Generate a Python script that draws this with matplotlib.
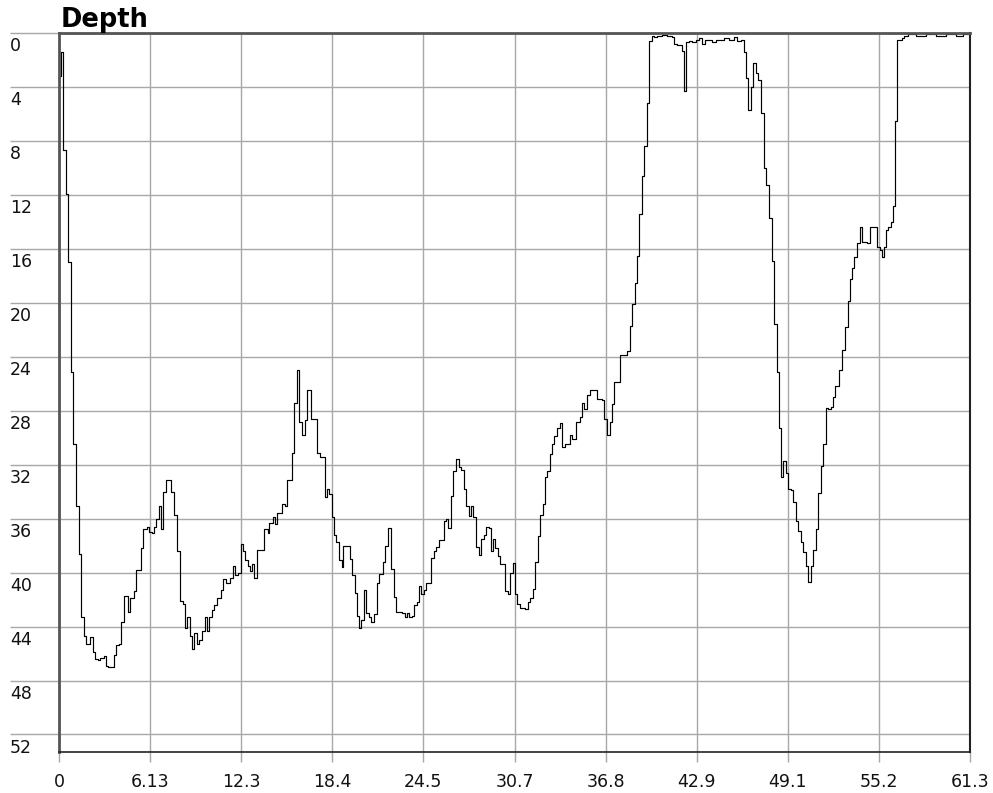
import numpy as np
import matplotlib
matplotlib.use("Agg")
import matplotlib.pyplot as plt

# depth profile (step-wise samples)
time = [0, 0.13, 0.29, 0.47, 0.63, 0.81, 0.96, 1.14, 1.33, 1.50, 1.66, 1.84, 2.11, 2.27, 2.42, 2.61, 2.79, 3.01, 3.14, 3.32,
        3.68, 3.84, 4.04, 4.18, 4.36, 4.63, 4.76, 5.03, 5.16, 5.52, 5.68, 5.91, 6.06, 6.24, 6.40, 6.53, 6.73, 6.87, 7.02, 7.21,
        7.52, 7.76, 7.97, 8.15, 8.33, 8.48, 8.64, 8.82, 8.94, 9.11, 9.29, 9.43, 9.61, 9.83, 9.97, 10.12, 10.28, 10.44, 10.66, 10.89,
        11.06, 11.25, 11.52, 11.70, 11.83, 12.05, 12.24, 12.37, 12.51, 12.71, 12.86, 13.02, 13.15, 13.35, 13.82, 14.03, 14.16, 14.39, 14.53, 14.70,
        15.00, 15.20, 15.35, 15.69, 15.82, 16.01, 16.18, 16.34, 16.52, 16.68, 16.99, 17.35, 17.58, 17.87, 18.03, 18.20, 18.36, 18.50, 18.65, 18.84,
        19.01, 19.14, 19.55, 19.73, 19.89, 20.05, 20.18, 20.34, 20.49, 20.67, 20.88, 21.01, 21.17, 21.37, 21.50, 21.80, 21.95, 22.11, 22.31, 22.51,
        22.69, 23.08, 23.25, 23.41, 23.57, 23.77, 23.91, 24.09, 24.24, 24.38, 24.53, 24.69, 25.03, 25.21, 25.37, 25.54, 25.88, 26.04, 26.17, 26.35,
        26.51, 26.71, 26.89, 27.05, 27.23, 27.41, 27.56, 27.72, 27.88, 28.06, 28.24, 28.42, 28.60, 28.75, 28.96, 29.07, 29.23, 29.36, 29.52, 29.68,
        30.03, 30.19, 30.35, 30.53, 30.66, 30.82, 31.00, 31.22, 31.38, 31.54, 31.72, 31.87, 32.01, 32.21, 32.37, 32.55, 32.68, 32.84, 33.02, 33.18,
        33.33, 33.51, 33.69, 33.87, 34.03, 34.36, 34.53, 34.81, 35.04, 35.20, 35.35, 35.54, 35.71, 36.21, 36.55, 36.70, 36.88, 37.06, 37.22, 37.37,
        37.73, 38.23, 38.40, 38.57, 38.74, 38.90, 39.06, 39.21, 39.39, 39.58, 39.71, 39.87, 40.02, 40.25, 40.59, 40.92, 41.26, 41.37, 41.60, 41.89,
        42.04, 42.22, 42.38, 42.61, 42.83, 43.05, 43.28, 43.50, 43.95, 44.18, 44.73, 45.07, 45.41, 45.64, 45.86, 46.08, 46.24, 46.38, 46.55, 46.73,
        46.87, 47.02, 47.27, 47.43, 47.59, 47.77, 47.95, 48.13, 48.28, 48.44, 48.57, 48.73, 48.89, 49.07, 49.23, 49.38, 49.56, 49.72, 49.90, 50.05,
        50.24, 50.39, 50.57, 50.75, 50.91, 51.09, 51.25, 51.40, 51.58, 51.76, 51.92, 52.08, 52.21, 52.46, 52.66, 52.86, 53.06, 53.23, 53.38, 53.49,
        53.67, 53.89, 54.05, 54.39, 54.57, 55.02, 55.24, 55.35, 55.51, 55.64, 55.78, 55.96, 56.11, 56.23, 56.41, 56.75, 56.86, 57.12, 57.64, 58.32,
        58.99, 59.66, 60.34, 60.81, 61.3]

depth = [3.2, 1.4, 8.7, 11.9, 17.0, 25.1, 30.5, 35.1, 38.6, 43.3, 44.7, 45.3, 44.8, 45.9, 46.4, 46.5, 46.3, 46.2, 46.9, 47.0,
         46.1, 45.4, 45.3, 43.7, 41.7, 42.9, 41.9, 41.4, 39.8, 38.2, 36.8, 36.6, 37.0, 37.1, 36.6, 36.0, 35.1, 36.8, 34.0, 33.1,
         34.0, 35.7, 38.4, 42.1, 42.3, 44.1, 43.3, 44.7, 45.7, 44.5, 45.3, 45.0, 44.3, 43.3, 44.3, 43.3, 42.8, 42.4, 41.9, 41.3,
         40.5, 40.8, 40.4, 39.5, 40.2, 40.0, 37.9, 38.4, 39.1, 39.5, 39.9, 39.4, 40.4, 38.3, 36.8, 37.1, 36.3, 35.9, 36.4, 35.6,
         34.9, 35.1, 33.1, 31.1, 27.4, 25.0, 28.8, 29.8, 28.7, 26.5, 28.6, 31.1, 31.4, 34.4, 33.8, 34.2, 35.9, 37.2, 37.7, 39.1,
         39.6, 38.0, 39.0, 40.2, 41.5, 43.2, 44.1, 43.5, 41.3, 43.0, 43.3, 43.7, 43.1, 40.8, 40.1, 39.2, 38.0, 36.7, 39.7, 41.8,
         42.9, 43.0, 43.3, 43.0, 43.3, 43.2, 42.4, 42.2, 41.0, 41.6, 41.3, 40.8, 38.9, 38.4, 38.1, 37.6, 36.2, 36.0, 36.7, 34.3,
         32.5, 31.6, 32.2, 32.4, 33.8, 35.1, 35.8, 35.1, 35.9, 38.1, 38.7, 37.5, 37.2, 36.6, 36.7, 38.4, 37.5, 38.2, 38.8, 39.4,
         41.4, 41.6, 40.0, 39.3, 41.6, 42.3, 42.6, 42.6, 42.7, 42.2, 41.9, 41.2, 39.2, 37.3, 35.7, 34.9, 32.9, 32.5, 31.2, 30.5,
         29.9, 29.3, 28.9, 30.7, 30.5, 29.8, 30.1, 28.8, 28.5, 27.4, 27.9, 26.8, 26.5, 27.1, 27.2, 28.6, 29.8, 28.8, 27.5, 25.9,
         23.9, 23.6, 21.7, 20.1, 18.5, 16.5, 13.4, 10.6, 8.4, 5.2, 0.6, 0.2, 0.3, 0.2, 0.15, 0.2, 0.3, 0.8, 0.9, 1.3,
         4.3, 0.7, 0.6, 0.7, 0.5, 0.4, 0.8, 0.5, 0.7, 0.55, 0.4, 0.5, 0.3, 0.6, 0.5, 1.4, 3.3, 5.7, 4.0, 2.2,
         3.0, 3.5, 5.9, 10.0, 11.3, 13.7, 16.9, 21.6, 25.1, 29.3, 32.9, 31.7, 32.6, 33.8, 33.9, 34.8, 36.2, 36.9, 37.7, 38.5,
         39.5, 40.7, 39.5, 38.3, 36.8, 34.1, 32.1, 30.5, 27.8, 27.9, 27.7, 27.0, 26.2, 25.0, 23.5, 21.8, 19.9, 18.2, 17.4, 16.6,
         15.6, 14.4, 15.5, 15.6, 14.4, 15.9, 16.1, 16.6, 15.9, 14.6, 14.4, 14.0, 12.8, 6.5, 0.5, 0.4, 0.2, 0.05, 0.2, 0.1,
         0.25, 0.1, 0.2, 0.1, 0.1]

xticks = [0, 6.13, 12.26, 18.39, 24.52, 30.65, 36.78, 42.91, 49.04, 55.17, 61.3]
xlabels = ['0', '6.13', '12.3', '18.4', '24.5', '30.7', '36.8', '42.9', '49.1', '55.2', '61.3']
yticks = list(range(0, 53, 4))

W, H = 993, 793
fig = plt.figure(figsize=(W / 100, H / 100), dpi=100)
ax = fig.add_axes([59 / W, 1 - 752 / H, (970 - 59) / W, (752 - 33) / H])

ax.step(time, depth, where='post', color='black', lw=0.85)

ax.set_xlim(0, 61.3)
ax.set_ylim(53.3, 0)

ax.set_xticks(xticks)
ax.set_xticklabels(xlabels)
ax.set_yticks(yticks)
ax.grid(True, color='#a8a8a8', lw=1.0)
ax.set_axisbelow(True)

ax.tick_params(axis='x', length=7.2, width=1.0, color='#a8a8a8', pad=8, labelsize=12.5, labelcolor='#111111')
ax.tick_params(axis='y', length=35.3, width=1.0, color='#a8a8a8', labelleft=False)

# y labels sit under their grid lines, flush left
for v in yticks:
    ax.text(-49 / 911, v + 1.0, str(v), transform=ax.get_yaxis_transform(),
            ha='left', va='center', fontsize=12.5, color='#111111')

ax.spines['left'].set_color('#555555')
ax.spines['left'].set_linewidth(2)
ax.spines['top'].set_color('#555555')
ax.spines['top'].set_linewidth(2)
ax.spines['right'].set_color('#222222')
ax.spines['right'].set_linewidth(1.5)
ax.spines['bottom'].set_color('#222222')
ax.spines['bottom'].set_linewidth(1.2)

fig.text(61 / W, 1 - 27 / H, 'Depth', fontsize=18.5, fontweight='bold', va='baseline')

fig.savefig('out.png', dpi=100)
